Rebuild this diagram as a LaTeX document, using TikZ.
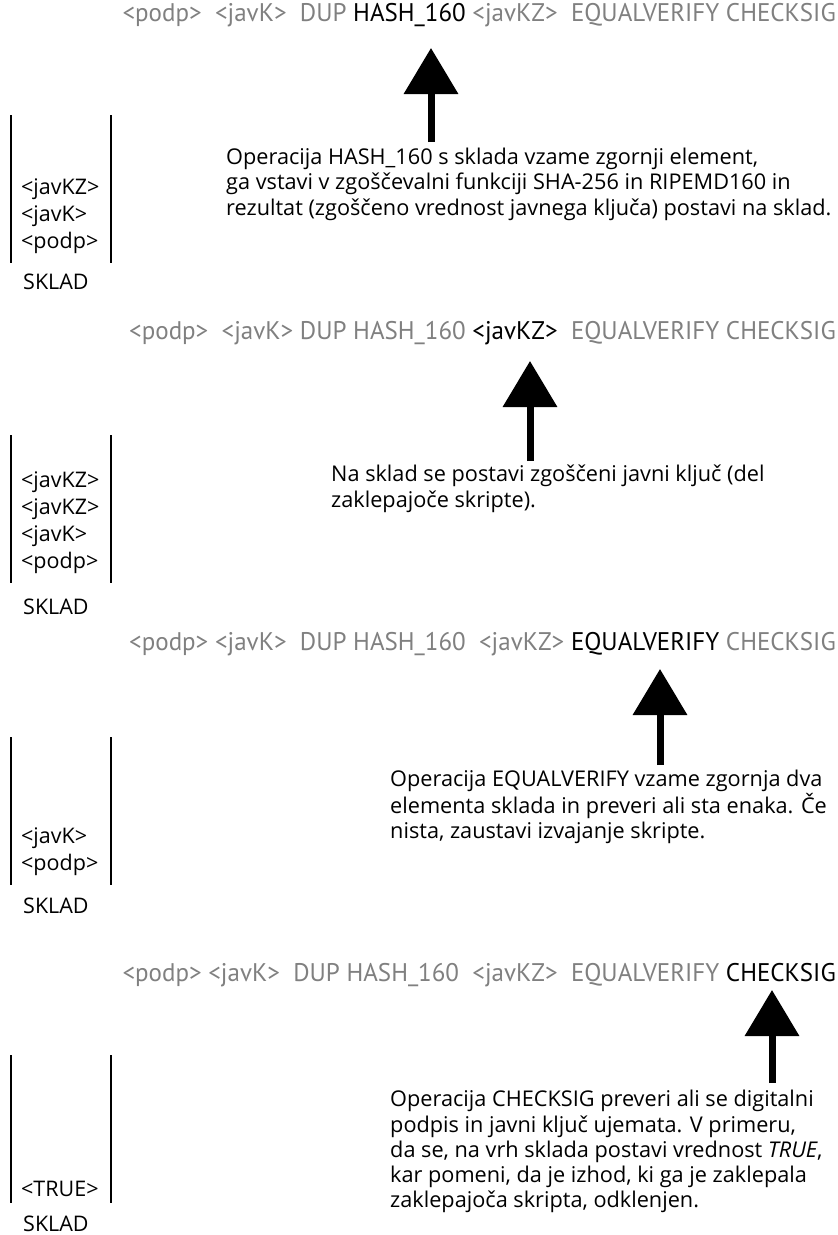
\documentclass[tikz,border=0pt]{standalone}
\usepackage{fontspec}
\setmainfont{Open Sans}
\newfontfamily\condfont[FakeStretch=0.98]{PT Sans}
\usetikzlibrary{arrows.meta,positioning}

\definecolor{opgray}{gray}{0.5}
\newcommand{\gr}[1]{\textcolor{opgray}{#1}}

\tikzset{
  script/.style={font=\condfont\fontsize{25.5}{28}\selectfont, inner sep=0pt, anchor=base east},
  note/.style={font=\fontsize{21.7}{25.3}\selectfont, align=left, anchor=north west, inner sep=0pt},
  item/.style={font=\fontsize{21.5}{24}\selectfont, inner sep=0pt, anchor=base west},
  wall/.style={line width=1.6pt},
  push/.style={line width=7pt, -{Triangle[width=53pt,length=46pt]}},
}

\begin{document}
\begin{tikzpicture}[x=1pt,y=-1pt]
    \useasboundingbox (0,0) rectangle (838,1235);

    % Step 1: HASH_160
    \node[script] (s1) at (836,21) {\gr{<podp>\ \ <javK>\ \ DUP} HASH\_160 \gr{<javKZ>\ \ EQUALVERIFY CHECKSIG}};
    \coordinate (b1) at (431,142);
    \coordinate (t1) at (431,48);
    \draw[push] (b1) -- (t1);
    \node[note] (n1) at (226,148) {Operacija HASH\_160 s sklada vzame zgornji element,\\ga vstavi v zgoščevalni funkciji SHA-256 in RIPEMD160 in\\rezultat (zgoščeno vrednost javnega ključa) postavi na sklad.};
    \draw[wall] (11,115) -- (11,263);
    \draw[wall] (111,115) -- (111,263);
    \node[item] (k1a) at (21,194) {<javKZ>};
    \node[item] (k1b) at (21,221) {<javK>};
    \node[item] (k1c) at (21,248) {<podp>};
    \node[item] (sk1) at (23,289) {SKLAD};

    % Step 2: <javKZ>
    \node[script] (s2) at (836,339) {\gr{<podp>\ \ <javK> DUP HASH\_160} <javKZ>\ \ \gr{EQUALVERIFY CHECKSIG}};
    \coordinate (b2) at (530,461);
    \coordinate (t2) at (530,361);
    \draw[push] (b2) -- (t2);
    \node[note] (n2) at (331,465) {Na sklad se postavi zgoščeni javni ključ (del\\zaklepajoče skripte).};
    \draw[wall] (11,435) -- (11,583);
    \draw[wall] (111,435) -- (111,583);
    \node[item] (k2a) at (21,487) {<javKZ>};
    \node[item] (k2b) at (21,514) {<javKZ>};
    \node[item] (k2c) at (21,541) {<javK>};
    \node[item] (k2d) at (21,568) {<podp>};
    \node[item] (sk2) at (23,614) {SKLAD};

    % Step 3: EQUALVERIFY
    \node[script] (s3) at (836,650) {\gr{<podp> <javK>\ \ DUP HASH\_160\ \ <javKZ>} EQUALVERIFY \gr{CHECKSIG}};
    \coordinate (b3) at (660,765);
    \coordinate (t3) at (660,669);
    \draw[push] (b3) -- (t3);
    \node[note] (n3) at (390,770) {Operacija EQUALVERIFY vzame zgornja dva\\elementa sklada in preveri ali sta enaka. Če\\nista, zaustavi izvajanje skripte.};
    \draw[wall] (11,737) -- (11,885);
    \draw[wall] (111,737) -- (111,885);
    \node[item] (k3a) at (21,843) {<javK>};
    \node[item] (k3b) at (21,870) {<podp>};
    \node[item] (sk3) at (23,913) {SKLAD};

    % Step 4: CHECKSIG
    \node[script] (s4) at (836,981) {\gr{<podp> <javK>\ \ DUP HASH\_160\ \ <javKZ>\ \ EQUALVERIFY} CHECKSIG};
    \coordinate (b4) at (772,1083);
    \coordinate (t4) at (772,990);
    \draw[push] (b4) -- (t4);
    \node[note] (n4) at (390,1090) {Operacija CHECKSIG preveri ali se digitalni\\podpis in javni ključ ujemata. V primeru,\\da se, na vrh sklada postavi vrednost \textit{TRUE},\\kar pomeni, da je izhod, ki ga je zaklepala\\zaklepajoča skripta, odklenjen.};
    \draw[wall] (11,1055) -- (11,1203);
    \draw[wall] (111,1055) -- (111,1203);
    \node[item] (k4a) at (21,1196) {<TRUE>};
    \node[item] (sk4) at (23,1231) {SKLAD};
\end{tikzpicture}
\end{document}
